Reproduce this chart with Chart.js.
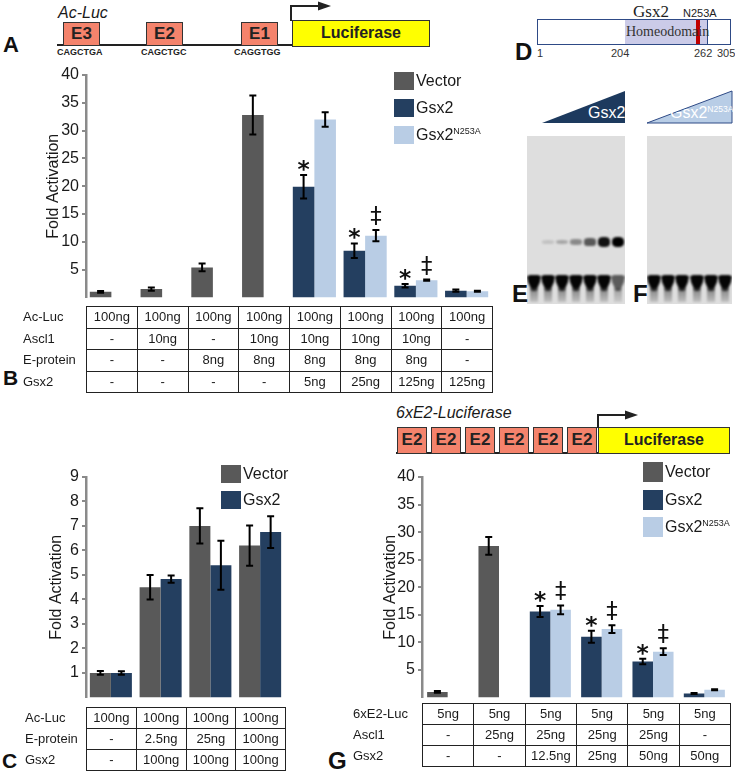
<!DOCTYPE html>
<html><head><meta charset="utf-8">
<script src="https://cdn.jsdelivr.net/npm/chart.js@4.4.1/dist/chart.umd.min.js"></script>
<style>
body{margin:0;background:#fff;}
#root{position:relative;width:735px;height:773px;overflow:hidden;font-family:'Liberation Sans',Arial,sans-serif;color:#1a1a1a;background:#fff;}
.abs{position:absolute;white-space:nowrap;line-height:1;}
canvas{position:absolute;}
.panel{position:absolute;font-weight:bold;line-height:1;color:#111;}
.rl{position:absolute;font-size:13px;white-space:nowrap;}
.cell{position:absolute;box-sizing:border-box;border-left:1.5px solid #222;border-top:1.5px solid #222;text-align:center;font-size:13px;}
.tbl{position:absolute;border-right:1.5px solid #222;border-bottom:1.5px solid #222;}
.box{position:absolute;background:#f4836c;border:1.5px solid #333;box-sizing:border-box;font-weight:bold;font-size:17px;text-align:center;color:#222;}
.luc{position:absolute;background:#ffff00;border:1.5px solid #333;box-sizing:border-box;font-weight:bold;font-size:16px;text-align:center;color:#222;}
.seq{position:absolute;font-size:9px;font-weight:bold;line-height:1;color:#222;}
.leg{position:absolute;font-size:16px;}
.leg > i{position:absolute;left:0;top:0;width:20px;}
.leg > b{position:absolute;left:22px;white-space:nowrap;font-weight:normal;}
.sup{font-size:9px;vertical-align:6px;line-height:0;}
.gel{position:absolute;background:#dedede;overflow:hidden;}
.bandwrap{position:absolute;filter:blur(1.1px);}
.band{position:absolute;left:0;top:0;width:100%;height:100%;}
</style></head>
<body><div id="root">

<!-- Panel A: construct -->
<div class="panel" style="left:3px;top:34px;font-size:22px">A</div>
<div class="abs" style="left:58px;top:5px;font-style:italic;font-size:16px">Ac-Luc</div>
<div class="abs" style="left:57px;top:44px;width:236px;height:2px;background:#222"></div>
<div class="box" style="left:63px;top:22px;width:37px;height:24px;line-height:21px">E3</div>
<div class="box" style="left:146px;top:22px;width:37px;height:24px;line-height:21px">E2</div>
<div class="box" style="left:241px;top:22px;width:37px;height:24px;line-height:21px">E1</div>
<div class="seq" style="left:57px;top:48px">CAGCTGA</div>
<div class="seq" style="left:141px;top:48px">CAGCTGC</div>
<div class="seq" style="left:234px;top:48px">CAGGTGG</div>
<div class="luc" style="left:292px;top:20px;width:138px;height:27px;line-height:24px">Luciferase</div>

<!-- Panel D -->
<div class="panel" style="left:515px;top:40px;font-size:24px">D</div>
<div class="abs" style="left:537px;top:19px;width:194px;height:26px;border:1.5px solid #2e4a86;box-sizing:border-box;background:#fff"></div>
<div class="abs" style="left:625px;top:20px;width:83px;height:24px;background:#cbcbe8;border-right:1.5px solid #2e4a86;box-sizing:border-box"></div>
<div class="abs" style="left:696px;top:20px;width:4px;height:24px;background:#c00000"></div>
<div class="abs" style="left:626px;top:25px;font-family:'Liberation Serif',serif;font-size:14px;color:#333">Homeodomain</div>
<div class="abs" style="left:633px;top:3px;font-family:'Liberation Serif',serif;font-size:17px;color:#222">Gsx2</div>
<div class="abs" style="left:683px;top:8px;font-size:11px;color:#222">N253A</div>
<div class="abs" style="left:537px;top:48px;font-size:11px;color:#333">1</div>
<div class="abs" style="left:611px;top:48px;font-size:11px;color:#333">204</div>
<div class="abs" style="left:694px;top:48px;font-size:11px;color:#333">262</div>
<div class="abs" style="left:717px;top:48px;font-size:11px;color:#333">305</div>

<!-- Panels E / F gels -->
<div class="gel" id="gelE" style="left:527px;top:136px;width:98px;height:168px"></div>
<div class="gel" id="gelF" style="left:647px;top:136px;width:85px;height:168px"></div>
<div class="panel" style="left:512px;top:282px;font-size:24px">E</div>
<div class="panel" style="left:633px;top:282px;font-size:24px">F</div>

<!-- Panel G construct -->
<div class="abs" style="left:396px;top:405px;font-style:italic;font-size:16px">6xE2-Luciferase</div>
<div class="abs" style="left:396px;top:452px;width:334px;height:2px;background:#222"></div>
<div id="e2boxes"></div>
<div class="luc" style="left:598px;top:427px;width:132px;height:27px;line-height:24px">Luciferase</div>

<svg class="abs" style="left:0;top:0;pointer-events:none" width="735" height="773">
  <polyline points="291,21 291,6 320,6" fill="none" stroke="#222" stroke-width="2"/>
  <polygon points="318,1.5 331,6 318,10.5" fill="#222"/>
  <polyline points="598,428 598,415 627,415" fill="none" stroke="#222" stroke-width="2"/>
  <polygon points="625,410.5 638,415 625,419.5" fill="#222"/>
  <polygon points="542,123 625,91 625,123" fill="#1d3a5e"/>
  <polygon points="647,123 732,91 732,123" fill="#b8cde6" stroke="#2e4a86" stroke-width="1"/>
</svg>
<div class="abs" style="left:588px;top:105px;font-size:16px;color:#fff">Gsx2</div>
<div class="abs" style="left:670px;top:105px;font-size:16px;color:#fff">Gsx2<span style="font-size:8.5px;vertical-align:6px">N253A</span></div>

<div class="panel" style="left:3px;top:367px;font-size:21px">B</div>
<div class="panel" style="left:2px;top:750px;font-size:21px">C</div>
<div class="panel" style="left:328px;top:749px;font-size:24px">G</div>

</div>
<script>
// ---------- DATA ----------
// Panel B (Ac-Luc reporter)
const bColumns   = ['1','2','3','4','5','6','7','8'];
const bRowNames  = ['Ac-Luc','Ascl1','E-protein','Gsx2'];
const bAcLuc     = ['100ng','100ng','100ng','100ng','100ng','100ng','100ng','100ng'];
const bAscl1     = ['-','10ng','-','10ng','10ng','10ng','10ng','-'];
const bEprotein  = ['-','-','8ng','8ng','8ng','8ng','8ng','-'];
const bGsx2Amt   = ['-','-','-','-','5ng','25ng','125ng','125ng'];
const bVector    = [1.0, 1.5, 5.4, 32.8, null, null, null, null];
const bVectorErr = [0.15, 0.3, 0.7, 3.5, null, null, null, null];
const bGsx2      = [null, null, null, null, 19.9, 8.4, 2.1, 1.2];
const bGsx2Err   = [null, null, null, null, 2.1, 1.3, 0.3, 0.2];
const bMut       = [null, null, null, null, 32.0, 11.1, 3.1, 1.1];
const bMutErr    = [null, null, null, null, 1.3, 1.0, 0.1, 0.1];
const bGsx2Marks = [null, null, null, null, '*', '*', '*', null];
const bMutMarks  = [null, null, null, null, null, '‡', '‡', null];
const bTicks     = [5, 10, 15, 20, 25, 30, 35, 40];

// Panel C
const cColumns   = ['1','2','3','4'];
const cRowNames  = ['Ac-Luc','E-protein','Gsx2'];
const cAcLuc     = ['100ng','100ng','100ng','100ng'];
const cEprotein  = ['-','2.5ng','25ng','100ng'];
const cGsx2Amt   = ['-','100ng','100ng','100ng'];
const cVector    = [1.0, 4.5, 7.0, 6.2];
const cVectorErr = [0.08, 0.5, 0.72, 0.82];
const cGsx2      = [1.0, 4.83, 5.4, 6.75];
const cGsx2Err   = [0.07, 0.15, 1.0, 0.65];
const cTicks     = [1, 2, 3, 4, 5, 6, 7, 8, 9];

// Panel G (6xE2 reporter)
const gColumns   = ['1','2','3','4','5','6'];
const gRowNames  = ['6xE2-Luc','Ascl1','Gsx2'];
const gE2Luc     = ['5ng','5ng','5ng','5ng','5ng','5ng'];
const gAscl1     = ['-','25ng','25ng','25ng','25ng','-'];
const gGsx2Amt   = ['-','-','12.5ng','25ng','50ng','50ng'];
const gVector    = [1.0, 27.5, null, null, null, null];
const gVectorErr = [0.15, 1.6, null, null, null, null];
const gGsx2      = [null, null, 15.6, 11.0, 6.5, 0.7];
const gGsx2Err   = [null, null, 1.0, 1.1, 0.5, 0.1];
const gMut       = [null, null, 15.9, 12.4, 8.3, 1.4];
const gMutErr    = [null, null, 0.8, 0.7, 0.6, 0.1];
const gGsx2Marks = [null, null, '*', '*', '*', null];
const gMutMarks  = [null, null, '‡', '‡', '‡', null];
const gTicks     = [5, 10, 15, 20, 25, 30, 35, 40];

// Gel band intensities (EMSA)
const eShifted   = [0, 0.12, 0.25, 0.38, 0.6, 0.92, 1.0];
const eFree      = [1, 1, 1, 1, 1, 1, 0.6];
const fFree      = [1, 1, 1, 1, 1, 1];

const VEC = '#595959', GSX = '#243f60', MUT = '#b9cde5';
const FONT = "'Liberation Sans', Arial, sans-serif";
const root = document.getElementById('root');

// ---------- helpers ----------
function markFont(ctx, ch, h, weight) {
  ctx.font = weight + " 100px 'DejaVu Sans'";
  const m = ctx.measureText(ch);
  const hh = m.actualBoundingBoxAscent + m.actualBoundingBoxDescent;
  const size = 100 * h / hh;
  ctx.font = weight + " " + size + "px 'DejaVu Sans'";
  return ctx.measureText(ch);
}
const errPlugin = {
  id: 'errbars',
  afterDatasetsDraw(chart) {
    const ctx = chart.ctx, ys = chart.scales.y;
    chart.data.datasets.forEach((ds, i) => {
      const meta = chart.getDatasetMeta(i);
      meta.data.forEach((el, j) => {
        const v = ds.data[j];
        if (v == null) return;
        const e = ds.errors[j];
        const yt = ys.getPixelForValue(v + e), yb = ys.getPixelForValue(v - e);
        ctx.save();
        ctx.strokeStyle = '#000'; ctx.lineWidth = 2;
        ctx.beginPath();
        ctx.moveTo(el.x, yt); ctx.lineTo(el.x, yb);
        ctx.moveTo(el.x - 3.5, yt); ctx.lineTo(el.x + 3.5, yt);
        ctx.moveTo(el.x - 3.5, yb); ctx.lineTo(el.x + 3.5, yb);
        ctx.stroke();
        const mk = ds.marks && ds.marks[j];
        if (mk) {
          const spec = mk === '*' ? {h: 11, gap: 4, w: 'bold'} : {h: 19, gap: 5, w: 'normal'};
          const m = markFont(ctx, mk, spec.h, spec.w);
          ctx.fillStyle = '#111'; ctx.textAlign = 'center'; ctx.textBaseline = 'alphabetic';
          ctx.fillText(mk, el.x, yt - spec.gap - m.actualBoundingBoxDescent);
        }
        ctx.restore();
      });
    });
  }
};

function makeChart(left, top, width, height, pad, labels, datasets, yMax, ticks, catPct, grouped, titleX) {
  const cv = document.createElement('canvas');
  cv.width = width; cv.height = height;
  cv.style.left = left + 'px'; cv.style.top = top + 'px';
  root.appendChild(cv);
  return new Chart(cv, {
    type: 'bar',
    data: {labels, datasets},
    options: {
      responsive: false, animation: false, devicePixelRatio: 1,
      layout: {padding: pad},
      plugins: {legend: {display: false}, tooltip: {enabled: false}},
      datasets: {bar: {categoryPercentage: catPct, barPercentage: 1}},
      scales: {
        x: {display: false, stacked: grouped},
        y: {
          min: 0, max: yMax, stacked: false,
          afterBuildTicks: s => { s.ticks = ticks.map(v => ({value: v})); },
          afterFit: s => { s.width = 86; },
          ticks: {font: {family: FONT, size: 16}, color: '#1a1a1a', padding: 3},
          grid: {drawOnChartArea: false, drawTicks: true, tickLength: 4, color: '#8a8a8a', lineWidth: 2},
          border: {display: true, color: '#8a8a8a', width: 2.5},
          title: {display: true, text: 'Fold Activation', font: {family: FONT, size: 16}, color: '#1a1a1a',
                  padding: {top: titleX - 9.6, bottom: 0}}
        }
      }
    },
    plugins: [errPlugin]
  });
}

function makeTable(left, top, colW, rowH, rows, names, labelLeft) {
  const n = rows[0].length;
  const t = document.createElement('div');
  t.className = 'tbl';
  t.style.cssText = `left:${left}px;top:${top}px;width:${n*colW}px;height:${rows.length*rowH}px`;
  root.appendChild(t);
  rows.forEach((r, i) => r.forEach((c, j) => {
    const d = document.createElement('div');
    d.className = 'cell';
    d.style.cssText = `left:${j*colW}px;top:${i*rowH}px;width:${colW}px;height:${rowH}px;line-height:${rowH-1}px`;
    d.textContent = c;
    t.appendChild(d);
  }));
  names.forEach((l, i) => {
    const d = document.createElement('div');
    d.className = 'rl';
    d.style.cssText = `left:${labelLeft}px;top:${top + i*rowH}px;height:${rowH}px;line-height:${rowH}px`;
    d.textContent = l;
    root.appendChild(d);
  });
}

function makeLegend(x, ys, items, boxH) {
  items.forEach((it, i) => {
    const d = document.createElement('div');
    d.className = 'leg';
    d.style.cssText = `left:${x}px;top:${ys[i]}px;height:${boxH}px`;
    d.innerHTML = `<i style="background:${it.color};height:${boxH}px"></i><b style="top:${(boxH-18)/2}px;line-height:18px">${it.html}</b>`;
    root.appendChild(d);
  });
}

function makeGel(id, centers, freeInt, shiftInt) {
  const g = document.getElementById(id);
  centers.forEach((cx, i) => {
    // free probe
    const w = document.createElement('div');
    w.className = 'bandwrap';
    w.style.cssText = `left:${cx-7}px;top:139px;width:14px;height:16px;opacity:${freeInt[i]}`;
    w.innerHTML = `<div class="band" style="background:#050505;clip-path:polygon(0 10%,20% 0,80% 0,100% 10%,92% 45%,65% 100%,35% 100%,8% 45%)"></div>`;
    g.appendChild(w);
    const s = document.createElement('div');
    s.className = 'bandwrap';
    s.style.cssText = `left:${cx-4}px;top:152px;width:8px;height:14px;opacity:${0.45*freeInt[i]+0.1}`;
    s.innerHTML = `<div class="band" style="background:linear-gradient(#333,#aaa);"></div>`;
    g.appendChild(s);
    if (shiftInt && shiftInt[i] > 0) {
      const b = document.createElement('div');
      b.className = 'bandwrap';
      const h = 3 + 7 * shiftInt[i];
      b.style.cssText = `left:${cx-6}px;top:${106 - h/2}px;width:12px;height:${h}px;opacity:${shiftInt[i]}`;
      b.innerHTML = `<div class="band" style="background:#000;border-radius:40%"></div>`;
      g.appendChild(b);
    }
  });
}

// ---------- build ----------
// E2 boxes of 6xE2 construct
const e2X = [397, 431, 465, 499, 533, 567];
e2X.forEach(x => {
  const d = document.createElement('div');
  d.className = 'box';
  d.style.cssText = `left:${x}px;top:427px;width:30px;height:27px;line-height:24px`;
  d.textContent = 'E2';
  document.getElementById('e2boxes').appendChild(d);
});

makeGel('gelE', [7, 21, 35, 49, 63, 77, 91], eFree, eShifted);
makeGel('gelF', [7, 21, 35, 50, 64, 78], fFree, null);

// Panel B
makeChart(0, 60, 500, 250, {top: 15, bottom: 5, right: 8, left: 0}, bColumns, [
  {label: 'Vector', data: bVector, errors: bVectorErr, backgroundColor: VEC, stack: 'a'},
  {label: 'Gsx2', data: bGsx2, errors: bGsx2Err, marks: bGsx2Marks, backgroundColor: GSX, stack: 'a'},
  {label: 'Gsx2 N253A', data: bMut, errors: bMutErr, marks: bMutMarks, backgroundColor: MUT, stack: 'b'}
], 40, bTicks, 0.85, true, 53.5);
makeTable(86, 306, 50.75, 21.5, [bAcLuc, bAscl1, bEprotein, bGsx2Amt], bRowNames, 23);
makeLegend(394, [72, 99, 126], [
  {color: VEC, html: 'Vector'},
  {color: GSX, html: 'Gsx2'},
  {color: MUT, html: 'Gsx2<span class="sup">N253A</span>'}
], 18);

// Panel C
makeChart(0, 460, 300, 250, {top: 17, bottom: 3, right: 15, left: 0}, cColumns, [
  {label: 'Vector', data: cVector, errors: cVectorErr, backgroundColor: VEC},
  {label: 'Gsx2', data: cGsx2, errors: cGsx2Err, backgroundColor: GSX}
], 9, cTicks, 0.845, false, 57);
makeTable(86, 707, 49.75, 21, [cAcLuc, cEprotein, cGsx2Amt], cRowNames, 25);
makeLegend(221, [465, 491], [
  {color: VEC, html: 'Vector'},
  {color: GSX, html: 'Gsx2'}
], 18);

// Panel G
makeChart(336, 460, 399, 250, {top: 17, bottom: 8, right: 5, left: 0}, gColumns, [
  {label: 'Vector', data: gVector, errors: gVectorErr, backgroundColor: VEC, stack: 'a'},
  {label: 'Gsx2', data: gGsx2, errors: gGsx2Err, marks: gGsx2Marks, backgroundColor: GSX, stack: 'a'},
  {label: 'Gsx2 N253A', data: gMut, errors: gMutErr, marks: gMutMarks, backgroundColor: MUT, stack: 'b'}
], 40, gTicks, 0.8, true, 55);
makeTable(422, 703, 51.33, 21, [gE2Luc, gAscl1, gGsx2Amt], gRowNames, 353);
makeLegend(643, [462, 490, 517], [
  {color: VEC, html: 'Vector'},
  {color: GSX, html: 'Gsx2'},
  {color: MUT, html: 'Gsx2<span class="sup">N253A</span>'}
], 20);
</script>
</body></html>
